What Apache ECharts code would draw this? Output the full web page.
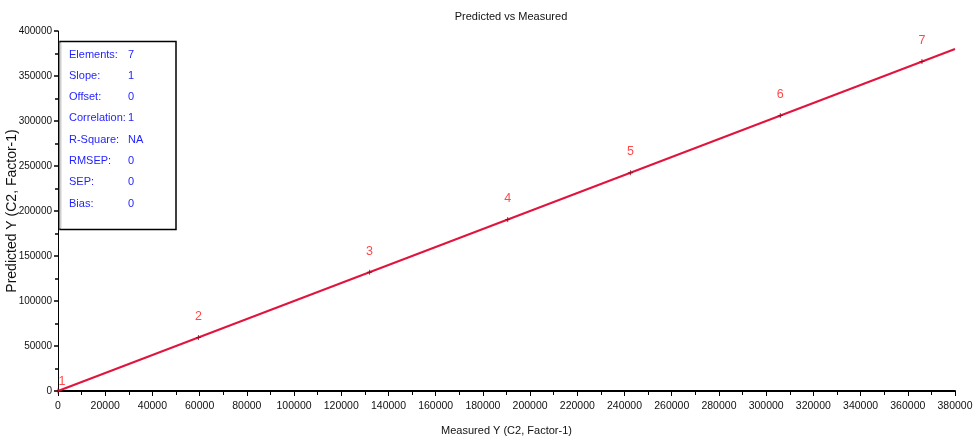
<!DOCTYPE html>
<html>
<head>
<meta charset="utf-8">
<script src="https://cdn.jsdelivr.net/npm/echarts@6/dist/echarts.min.js"></script>
<style>
  html, body { margin: 0; padding: 0; background: #fff; }
  #chart { width: 973px; height: 441px; }
</style>
</head>
<body>
<div id="chart"></div>
<script>
// Sample values: measured vs predicted response
const pointNames = ['1', '2', '3', '4', '5', '6', '7'];
const measured = [0, 59500, 132000, 190500, 242500, 306000, 366000];
const predicted = [0, 59500, 132000, 190500, 242500, 306000, 366000];

// Regression summary
const statLabels = ['Elements:', 'Slope:', 'Offset:', 'Correlation:', 'R-Square:', 'RMSEP:', 'SEP:', 'Bias:'];
const statValues = ['7', '1', '0', '1', 'NA', '0', '0', '0'];
const slope = 1;
const offset = 0;

// Axis ranges
const xMin = 0, xMax = 380000, xStep = 20000;
const yMin = 0, yMax = 400000, yStep = 50000;

const sans = '"Liberation Sans Narrow", "Arial Narrow", "Liberation Sans", Arial, sans-serif';

const scatterData = measured.map((m, i) => ({
  value: [m, predicted[i]],
  name: pointNames[i],
  // the first label sits just right of the origin so it stays clear of the axis
  label: i === 0 ? { offset: [4, 12] } : undefined
}));
const fitLine = [[xMin, slope * xMin + offset], [xMax, slope * xMax + offset]];

const chart = echarts.init(document.getElementById('chart'), null, { renderer: 'canvas' });

const statRowH = 21.3;
const statElements = [];
statLabels.forEach((lab, i) => {
  statElements.push({
    type: 'text', x: 9, y: 13 + i * statRowH,
    style: { text: lab, fill: '#1f1fff', font: '11px ' + sans, textVerticalAlign: 'middle' }
  });
  statElements.push({
    type: 'text', x: 68, y: 13 + i * statRowH,
    style: { text: statValues[i], fill: '#1f1fff', font: '11px ' + sans, textVerticalAlign: 'middle' }
  });
});

chart.setOption({
  animation: false,
  backgroundColor: '#ffffff',
  title: {
    text: 'Predicted vs Measured',
    left: 506, top: 6, textAlign: 'center',
    textStyle: { fontFamily: sans, fontSize: 11, fontWeight: 'normal', color: '#111' }
  },
  grid: { left: 58, right: 18, top: 31, bottom: 50, containLabel: false, outerBoundsMode: 'none' },
  xAxis: {
    type: 'value', min: xMin, max: xMax, interval: xStep,
    name: 'Measured Y (C2, Factor-1)', nameLocation: 'middle', nameGap: 34, nameMoveOverlap: false,
    nameTextStyle: { fontFamily: sans, fontSize: 11, color: '#111' },
    axisLine: { show: true, onZero: false, lineStyle: { color: '#000', width: 2 } },
    axisTick: { show: true, length: 5, lineStyle: { color: '#000', width: 1 } },
    minorTick: { show: true, splitNumber: 2, length: 4, lineStyle: { color: '#000', width: 1 } },
    axisLabel: { fontFamily: sans, fontSize: 10.5, color: '#111', margin: 10, formatter: v => String(v) },
    splitLine: { show: false }
  },
  yAxis: {
    type: 'value', min: yMin, max: yMax, interval: yStep,
    name: 'Predicted Y (C2, Factor-1)', nameLocation: 'middle', nameGap: 39, nameMoveOverlap: false,
    nameTextStyle: { fontFamily: '"Liberation Sans", Arial, sans-serif', fontSize: 14, color: '#111' },
    axisLine: { show: true, onZero: false, lineStyle: { color: '#000', width: 1 } },
    axisTick: { show: true, length: 4, lineStyle: { color: '#000', width: 1.5 } },
    minorTick: { show: true, splitNumber: 2, length: 3, lineStyle: { color: '#000', width: 1.5 } },
    axisLabel: { fontFamily: sans, fontSize: 10, color: '#111', margin: 6, formatter: v => String(v) },
    splitLine: { show: false }
  },
  series: [
    {
      type: 'line',
      data: fitLine,
      symbol: 'none',
      silent: true,
      lineStyle: { color: '#e0143c', width: 2 },
      z: 2
    },
    {
      type: 'scatter',
      data: scatterData,
      symbol: 'path://M2,0H3V2H5V3H3V5H2V3H0V2H2Z',
      symbolSize: 5,
      itemStyle: { color: '#8a0a1e' },
      label: {
        show: true, position: 'top', distance: 12,
        formatter: p => p.name,
        color: '#ff1a1a', fontFamily: sans, fontSize: 12.5
      },
      z: 3
    }
  ],
  graphic: [
    {
      type: 'group', left: 58, top: 40,
      children: [
        {
          type: 'rect', shape: { x: 0, y: 0, width: 116, height: 188 },
          style: { fill: '#ffffff', stroke: '#000', lineWidth: 1.5 }
        },
        {
          type: 'line', shape: { x1: 0.5, y1: 1, x2: 0.5, y2: 187 },
          style: { stroke: '#cfcfcf', lineWidth: 2 }
        }
      ].concat(statElements)
    }
  ]
});
</script>
</body>
</html>
